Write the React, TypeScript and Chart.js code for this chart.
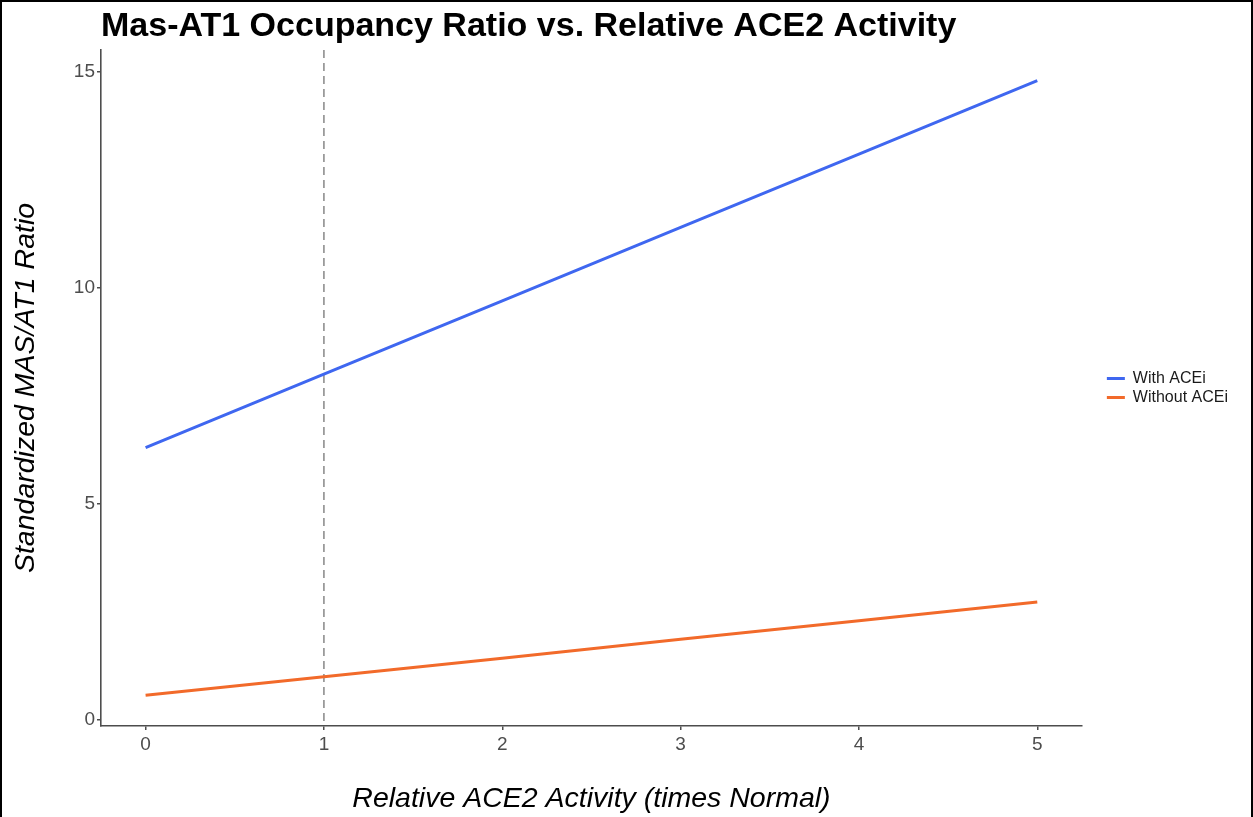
import React, { useEffect, useRef } from "react";
import { Chart, registerables } from "chart.js";

Chart.register(...registerables);

const TITLE = "Mas-AT1 Occupancy Ratio vs. Relative ACE2 Activity";
const X_LABEL = "Relative ACE2 Activity (times Normal)";
const Y_LABEL = "Standardized MAS/AT1 Ratio";
const X_VALUES = [0, 1, 2, 3, 4, 5];
const WITH_ACEI = [6.3, 8.0, 9.7, 11.4, 13.1, 14.8];
const WITHOUT_ACEI = [0.56, 0.99, 1.42, 1.86, 2.29, 2.72];
const SERIES_NAMES = ["With ACEi", "Without ACEi"];
const X_TICKS = [0, 1, 2, 3, 4, 5];
const Y_TICKS = [0, 5, 10, 15];
const REFERENCE_X = 1;

const FONT = "'Liberation Sans', Arial, Helvetica, sans-serif";

export default function App() {
  const ref = useRef<HTMLCanvasElement | null>(null);

  useEffect(() => {
    document.body.style.margin = "0";
    const canvas = ref.current;
    if (!canvas) return;

    const overlay = {
      id: "overlay",
      afterLayout(chart: any) {
        const lg = chart.legend;
        if (lg) {
          lg.left += 22;
          lg.right += 22;
        }
      },
      beforeDatasetsDraw(chart: any) {
        const { ctx, chartArea, scales } = chart;
        const x = scales.x.getPixelForValue(REFERENCE_X);
        ctx.save();
        ctx.strokeStyle = "#7f7f7f";
        ctx.lineWidth = 1.4;
        ctx.setLineDash([8, 5]);
        ctx.beginPath();
        ctx.moveTo(x, chartArea.top);
        ctx.lineTo(x, chartArea.bottom);
        ctx.stroke();
        ctx.restore();
      },
      afterDraw(chart: any) {
        const { ctx, chartArea } = chart;
        ctx.save();
        ctx.fillStyle = "#000000";
        ctx.font = `bold 34px ${FONT}`;
        ctx.textBaseline = "alphabetic";
        ctx.textAlign = "left";
        ctx.fillText(TITLE, chartArea.left, 36);
        ctx.restore();
      },
    };

    const chart = new Chart(canvas, {
      type: "line",
      data: {
        datasets: [
          {
            label: SERIES_NAMES[0],
            data: X_VALUES.map((x, i) => ({ x, y: WITH_ACEI[i] })),
            borderColor: "#3F67F0",
            backgroundColor: "#3F67F0",
            borderWidth: 3,
            pointRadius: 0,
            tension: 0,
          },
          {
            label: SERIES_NAMES[1],
            data: X_VALUES.map((x, i) => ({ x, y: WITHOUT_ACEI[i] })),
            borderColor: "#F26A2A",
            backgroundColor: "#F26A2A",
            borderWidth: 3,
            pointRadius: 0,
            tension: 0,
          },
        ],
      },
      options: {
        responsive: false,
        animation: false,
        devicePixelRatio: 1,
        layout: { padding: { top: 50, left: 0, right: 37, bottom: 0 } },
        plugins: {
          title: { display: false },
          tooltip: { enabled: false },
          legend: {
            display: true,
            position: "right",
            align: "center",
            fullSize: false,
            labels: {
              usePointStyle: true,
              pointStyle: "line",
              pointStyleWidth: 18,
              boxHeight: 16,
              padding: 3,
              color: "#1a1a1a",
              font: { family: FONT, size: 16 },
            },
          },
        },
        scales: {
          x: {
            type: "linear",
            min: -0.25,
            max: 5.25,
            afterBuildTicks: (scale: any) => {
              scale.ticks = X_TICKS.map((v) => ({ value: v }));
            },
            afterFit: (scale: any) => {
              scale.height = 91;
            },
            grid: {
              display: true,
              drawOnChartArea: false,
              drawTicks: true,
              tickLength: 4,
              color: "#4d4d4d",
              lineWidth: 1.5,
            },
            border: { display: true, color: "#4d4d4d", width: 1.6 },
            ticks: {
              color: "#4d4d4d",
              padding: 3,
              font: { family: FONT, size: 19 },
              maxRotation: 0,
            },
            title: {
              display: true,
              text: X_LABEL,
              color: "#000000",
              font: { family: FONT, size: 28.5, style: "italic" },
              padding: { top: 0, bottom: 1 },
            },
          },
          y: {
            type: "linear",
            min: -0.15,
            max: 15.51,
            afterBuildTicks: (scale: any) => {
              scale.ticks = Y_TICKS.map((v) => ({ value: v }));
            },
            afterFit: (scale: any) => {
              scale.width = 101;
            },
            grid: {
              display: true,
              drawOnChartArea: false,
              drawTicks: true,
              tickLength: 4,
              color: "#4d4d4d",
              lineWidth: 1.5,
            },
            border: { display: true, color: "#4d4d4d", width: 1.6 },
            ticks: {
              color: "#4d4d4d",
              padding: 2,
              font: { family: FONT, size: 19 },
            },
            title: {
              display: true,
              text: Y_LABEL,
              color: "#000000",
              font: { family: FONT, size: 28.5, style: "italic" },
              padding: { top: 9, bottom: 0 },
            },
          },
        },
      },
      plugins: [overlay],
    });

    return () => chart.destroy();
  }, []);

  return (
    <div style={{ position: "relative", width: 1253, height: 817, background: "#ffffff" }}>
      <canvas ref={ref} width={1253} height={817} style={{ position: "absolute", left: 0, top: 0 }} />
      <div
        style={{
          position: "absolute",
          left: 0,
          top: 0,
          width: 1253,
          height: 817,
          boxSizing: "border-box",
          borderLeft: "2px solid #000",
          borderTop: "2px solid #000",
          borderRight: "2px solid #000",
          pointerEvents: "none",
        }}
      />
    </div>
  );
}
